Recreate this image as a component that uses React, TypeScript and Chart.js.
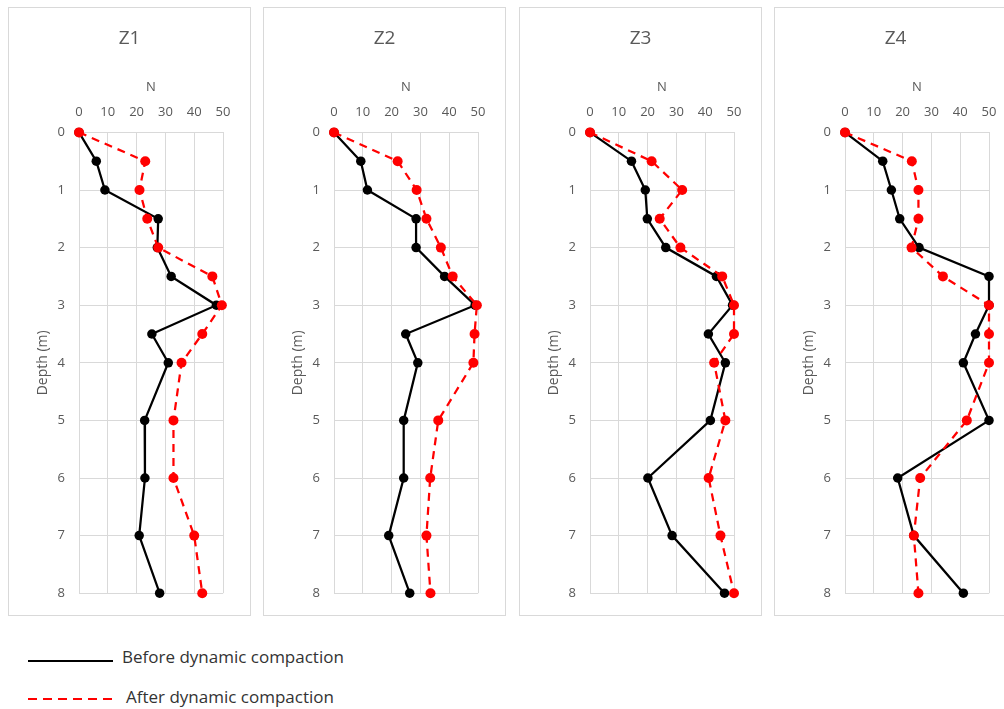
import React, { useEffect, useRef } from "react";
import { Chart, registerables } from "chart.js";

Chart.register(...registerables);

// Depth (m) of each SPT reading
const depths = [0, 0.5, 1, 1.5, 2, 2.5, 3, 3.5, 4, 5, 6, 7, 8];
const xTickValues = [0, 10, 20, 30, 40, 50];
const depthTickValues = [0, 1, 2, 3, 4, 5, 6, 7, 8];
const panelTitles = ["Z1", "Z2", "Z3", "Z4"];
const seriesLabels = ["Before dynamic compaction", "After dynamic compaction"];

// N values, before dynamic compaction
const z1Before = [0, 6, 9, 27.5, 27.2, 32, 47.7, 25.3, 31, 22.8, 22.9, 20.9, 28];
const z2Before = [0, 9.3, 11.6, 28.5, 28.5, 38.4, 49, 24.9, 29.1, 24.2, 24.2, 19, 26.3];
const z3Before = [0, 14.4, 19.2, 19.9, 26.3, 43.9, 49.5, 41.1, 47, 41.8, 20.1, 28.5, 46.7];
const z4Before = [0, 13.1, 16.1, 19, 25.7, 50, 50, 45.3, 41.1, 50, 18.3, 23.9, 41.1];

// N values, after dynamic compaction
const z1After = [0, 23, 21, 23.7, 27.5, 46.3, 49.6, 42.8, 35.6, 32.8, 32.8, 40, 42.8];
const z2After = [0, 22.1, 28.7, 32.1, 37.1, 41.2, 49.6, 48.8, 48.4, 36.2, 33.4, 32.1, 33.5];
const z3After = [0, 21.4, 32, 24.2, 31.4, 45.9, 50, 50, 43.1, 47, 41.2, 45.3, 50];
const z4After = [0, 23.2, 25.5, 25.5, 23.1, 34, 50, 50, 50, 42.3, 26.1, 23.9, 25.5];

const beforeSeries = [z1Before, z2Before, z3Before, z4Before];
const afterSeries = [z1After, z2After, z3After, z4After];

const FONT = '"Open Sans", "Noto Sans", "DejaVu Sans", sans-serif';
const GRAY = "#595959";
const GRID = "#d9d9d9";

const panelLefts = [8, 263, 519, 774];

function Panel({ title, before, after, left }: { title: string; before: number[]; after: number[]; left: number }) {
  const ref = useRef<HTMLCanvasElement>(null);
  useEffect(() => {
    const chart = new Chart(ref.current as HTMLCanvasElement, {
      type: "scatter",
      data: {
        datasets: [
          {
            label: seriesLabels[0],
            data: depths.map((d, i) => ({ x: before[i], y: d })),
            showLine: true,
            borderColor: "#000000",
            backgroundColor: "#000000",
            borderWidth: 2.25,
            pointRadius: 4.75,
            pointBorderWidth: 0,
            order: 1,
            clip: false,
          } as any,
          {
            label: seriesLabels[1],
            data: depths.map((d, i) => ({ x: after[i], y: d })),
            showLine: true,
            borderColor: "#ff0000",
            backgroundColor: "#ff0000",
            borderWidth: 2.25,
            borderDash: [8, 6],
            pointRadius: 5,
            pointBorderWidth: 0,
            order: 0,
            clip: false,
          } as any,
        ],
      },
      options: {
        animation: false,
        responsive: false,
        events: [],
        layout: { padding: { left: 0, right: 0, top: 0, bottom: 18 } },
        plugins: {
          legend: { display: false },
          tooltip: { enabled: false },
          title: {
            display: true,
            text: title,
            color: GRAY,
            font: { family: FONT, size: 19, weight: "normal" },
            padding: { top: 19.2, bottom: 0 },
          },
        },
        scales: {
          x: {
            type: "linear",
            position: "top",
            min: 0,
            max: 50,
            afterBuildTicks: (s: any) => {
              s.ticks = xTickValues.map((v) => ({ value: v }));
            },
            afterFit: (s: any) => {
              s.height = 82.4;
            },
            ticks: { color: GRAY, font: { family: FONT, size: 13 }, padding: 12, maxRotation: 0 },
            grid: { color: GRID, lineWidth: 1, drawTicks: false },
            border: { display: false },
            title: {
              display: true,
              text: "N",
              color: GRAY,
              font: { family: FONT, size: 13 },
              padding: { top: 29.6, bottom: 0 },
            },
          },
          y: {
            type: "linear",
            reverse: true,
            min: 0,
            max: 8,
            afterBuildTicks: (s: any) => {
              s.ticks = depthTickValues.map((v) => ({ value: v }));
            },
            afterFit: (s: any) => {
              s.width = 70;
            },
            ticks: { color: GRAY, font: { family: FONT, size: 13 }, padding: 14 },
            grid: { color: GRID, lineWidth: 1, drawTicks: false },
            border: { display: false },
            title: {
              display: true,
              text: "Depth (m)",
              color: GRAY,
              font: { family: FONT, size: 14 },
              padding: { top: 25.6, bottom: 0 },
            },
          },
          yRight: {
            type: "linear",
            position: "right",
            reverse: true,
            min: 0,
            max: 8,
            afterFit: (s: any) => {
              s.width = 27;
            },
            ticks: { display: false },
            grid: { display: false, drawTicks: false },
            border: { display: false },
          },
        },
      } as any,
    });
    return () => chart.destroy();
  }, []);
  return (
    <div
      style={{
        position: "absolute",
        left,
        top: 7,
        width: 243,
        height: 609,
        border: `1px solid ${GRID}`,
        boxSizing: "border-box",
        background: "#fff",
      }}
    >
      <canvas ref={ref} width={241} height={607} style={{ display: "block" }} />
    </div>
  );
}

export default function App() {
  return (
    <div
      style={{
        position: "fixed",
        left: 0,
        top: 0,
        width: 1004,
        height: 709,
        overflow: "hidden",
        background: "#fff",
        fontFamily: FONT,
      }}
    >
      {panelTitles.map((t, i) => (
        <Panel key={t} title={t} before={beforeSeries[i]} after={afterSeries[i]} left={panelLefts[i]} />
      ))}
      <svg style={{ position: "absolute", left: 0, top: 640, overflow: "visible" }} width={130} height={70}>
        <line x1={28} x2={113} y1={21} y2={21} stroke="#000" strokeWidth={2} />
        <line x1={28} x2={113} y1={59} y2={59} stroke="#ff0000" strokeWidth={2} strokeDasharray="9 6" />
      </svg>
      <div style={{ position: "absolute", left: 122, top: 645, fontSize: 17, lineHeight: "23px", color: "#333", whiteSpace: "nowrap" }}>
        {seriesLabels[0]}
      </div>
      <div style={{ position: "absolute", left: 126, top: 685, fontSize: 17, lineHeight: "23px", color: "#333", whiteSpace: "nowrap" }}>
        {seriesLabels[1]}
      </div>
    </div>
  );
}
